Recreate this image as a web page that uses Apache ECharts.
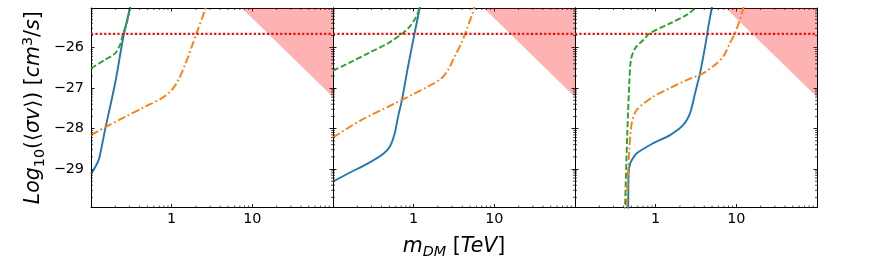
<!DOCTYPE html>
<html><head><meta charset="utf-8">
<script src="https://cdn.jsdelivr.net/npm/echarts@6/dist/echarts.min.js"></script>
<style>html,body{margin:0;padding:0;background:#fff}#c{width:872px;height:258px}</style>
</head><body><div id="c"></div>
<script>
// ---- data (m in TeV, value = log10 <sigma v> [cm^3/s]) ----
const xRange = [0.1, 100];
const yRange = [-29.95, -25.02];
const xTickLabels = ['1', '10'];
const yTickLabels = [-29, -28, -27, -26];
const xMinorTicks = [0.2,0.3,0.4,0.5,0.6,0.7,0.8,0.9,2,3,4,5,6,7,8,9,20,30,40,50,60,70,80,90];
const yMinorFactors = [2,3,4,5,6,7,8,9];
const relicLog = -25.66;
const unitarity = [[5, -24.69], [100, -27.22]];

const p1Blue = [[0.1,-29.12],[0.113,-28.95],[0.126,-28.74],[0.149,-28.04],[0.199,-26.88],[0.252,-25.73],[0.304,-25.02],[0.33,-24.66]];
const p1Green = [[0.1,-26.51],[0.149,-26.30],[0.199,-26.14],[0.229,-25.93],[0.251,-25.64],[0.277,-25.40],[0.304,-25.02],[0.32,-24.75]];
const p1Orange = [[0.1,-28.16],[0.149,-27.97],[0.264,-27.71],[0.467,-27.46],[0.752,-27.25],[1.0,-27.05],[1.21,-26.80],[1.46,-26.43],[1.77,-25.98],[2.04,-25.64],[2.59,-25.07],[2.8,-24.85]];

const p2Blue = [[0.1,-29.31],[0.1535,-29.11],[0.272,-28.86],[0.417,-28.63],[0.505,-28.45],[0.582,-28.12],[0.640,-27.71],[0.716,-27.29],[0.851,-26.47],[1.028,-25.64],[1.186,-25.02],[1.3,-24.6]];
const p2Green = [[0.1,-26.57],[0.1535,-26.39],[0.272,-26.14],[0.481,-25.89],[0.703,-25.67],[0.893,-25.48],[1.079,-25.23],[1.186,-25.02],[1.3,-24.75]];
const p2Orange = [[0.1,-28.22],[0.224,-27.79],[0.582,-27.38],[1.507,-26.96],[2.203,-26.76],[2.667,-26.55],[3.228,-26.22],[3.899,-25.89],[4.375,-25.64],[5.445,-25.11],[6.0,-24.8]];

const p3Blue = [[0.456,-30.3],[0.458,-29.6],[0.462,-29.1],[0.48,-28.88],[0.505,-28.78],[0.582,-28.61],[0.935,-28.36],[1.507,-28.16],[2.203,-27.91],[2.667,-27.62],[3.076,-27.13],[3.548,-26.63],[4.093,-25.98],[4.498,-25.48],[4.955,-25.02],[5.4,-24.6]];
const p3Green = [[0.414,-30.3],[0.417,-29.95],[0.445,-28.12],[0.471,-26.88],[0.494,-26.30],[0.555,-26.02],[0.703,-25.81],[0.851,-25.64],[1.507,-25.40],[2.421,-25.19],[3.076,-25.02],[3.4,-24.88]];
const p3Orange = [[0.433,-30.3],[0.436,-29.95],[0.471,-28.53],[0.505,-27.87],[0.582,-27.54],[0.935,-27.21],[1.507,-27.00],[2.421,-26.80],[3.899,-26.63],[5.70,-26.39],[6.90,-26.22],[8.34,-25.89],[9.62,-25.64],[11.09,-25.31],[12.22,-25.02],[13.0,-24.8]];

const panels = [
  {blue: p1Blue, orange: p1Orange, green: p1Green},
  {blue: p2Blue, orange: p2Orange, green: p2Green},
  {blue: p3Blue, orange: p3Orange, green: p3Green}
];

// ---- chart ----
const FONT = 'DejaVu Sans';
const chart = echarts.init(document.getElementById('c'), null, {renderer: 'canvas'});
const G_LEFT = 91, G_W = 242, G_TOP = 8, G_H = 199.5;

const yMinor = [];
for (let n = -30; n <= -26; n++) yMinorFactors.forEach(k => {
  const v = n + Math.log10(k);
  if (v > yRange[0] && v < yRange[1]) yMinor.push(v);
});

const grids = [], xAxes = [], yAxes = [], series = [];
const tickStyle = {show: true, inside: true, length: 3.5, lineStyle: {color: '#000', width: 0.9}};
const lineAx = {show: true, onZero: false, lineStyle: {color: '#000', width: 1}};

const FS = 20.5, FSS = 14.4;
const rich = {
  i: {fontFamily: FONT, fontStyle: 'italic', fontSize: FS, lineHeight: 26, color: '#000'},
  n: {fontFamily: FONT, fontSize: FS, lineHeight: 26, color: '#000'},
  sub: {fontFamily: FONT, fontSize: FSS, lineHeight: 14, verticalAlign: 'bottom', color: '#000'},
  isub: {fontFamily: FONT, fontStyle: 'italic', fontSize: FSS, lineHeight: 14, verticalAlign: 'bottom', color: '#000'},
  sup: {fontFamily: FONT, fontSize: FSS, lineHeight: 14, verticalAlign: 'top', color: '#000'}
};

panels.forEach((p, gi) => {
  grids.push({left: G_LEFT + G_W * gi, top: G_TOP, width: G_W, height: G_H, containLabel: false, outerBoundsMode: 'none'});
  const xb = {
    type: 'log', logBase: 10, min: xRange[0], max: xRange[1], gridIndex: gi, position: 'bottom',
    axisLine: lineAx, axisTick: tickStyle, splitLine: {show: false}, minorTick: {show: false},
    axisLabel: {
      show: true, margin: 5, fontFamily: FONT, fontSize: 14.4, color: '#000',
      formatter: v => { const s = String(Math.round(v * 1000) / 1000); return xTickLabels.includes(s) ? s : ''; }
    }
  };
  if (gi === 1) {
    xb.name = '{i|m}{isub|DM}{n| [}{i|TeV}{n|]}';
    xb.nameLocation = 'middle';
    xb.nameGap = 26;
    xb.nameTextStyle = {rich};
  }
  xAxes.push(xb);
  xAxes.push({
    type: 'log', logBase: 10, min: xRange[0], max: xRange[1], gridIndex: gi, position: 'top',
    axisLine: lineAx, axisTick: tickStyle, splitLine: {show: false}, axisLabel: {show: false}
  });
  const yl = {
    type: 'value', min: yRange[0], max: yRange[1], splitNumber: 5, gridIndex: gi, position: 'left',
    axisLine: lineAx, axisTick: tickStyle, splitLine: {show: false},
    axisLabel: {
      show: gi === 0, margin: 7, fontFamily: FONT, fontSize: 14.4, color: '#000',
      formatter: v => { const r = Math.round(v); return (Math.abs(v - r) < 1e-6 && yTickLabels.includes(r)) ? '\u2212' + Math.abs(r) : ''; }
    }
  };
  if (gi === 0) {
    yl.name = '{i|Log}{sub|10}{n|(\u27e8}{i|\u03c3v}{n|\u27e9) [}{i|cm}{sup|3}{n|/}{i|s}{n|]}';
    yl.nameLocation = 'middle';
    yl.nameRotate = 90;
    yl.nameGap = 44;
    yl.nameTextStyle = {rich};
  }
  yAxes.push(yl);
  yAxes.push({
    type: 'value', min: yRange[0], max: yRange[1], splitNumber: 5, gridIndex: gi, position: 'right',
    axisLine: lineAx, axisTick: tickStyle, splitLine: {show: false}, axisLabel: {show: false}
  });
  const xi = 2 * gi, yi = 2 * gi;
  series.push({
    type: 'line', xAxisIndex: xi, yAxisIndex: yi, data: unitarity, showSymbol: false, silent: true,
    lineStyle: {width: 0}, areaStyle: {origin: 'end', color: 'rgba(255,0,0,0.3)', opacity: 1}, z: 1
  });
  const mk = (data, color, type) => ({
    type: 'line', xAxisIndex: xi, yAxisIndex: yi, data, showSymbol: false, smooth: 0.3, silent: true,
    lineStyle: {color, width: 1.9, type, cap: 'butt'}, z: 3
  });
  series.push(mk(p.blue, '#1f77b4', 'solid'));
  series.push(mk(p.orange, '#ff7f0e', [8, 2.8, 1.8, 2.8]));
  series.push(mk(p.green, '#2ca02c', [6, 2.6]));
  series.push({
    type: 'line', xAxisIndex: xi, yAxisIndex: yi, data: [[xRange[0], relicLog], [xRange[1], relicLog]],
    showSymbol: false, silent: true, lineStyle: {color: '#ff0000', width: 2.1, type: [2.1, 2.3]}, z: 4
  });
  // log-style minor ticks, placed through the axes' own scales
  series.push({
    type: 'custom', xAxisIndex: xi, yAxisIndex: yi, silent: true, z: 6,
    data: xMinorTicks.map(m => [m, yRange[0]]),
    renderItem: (params, api) => {
      const b = api.coord([api.value(0), yRange[0]]);
      const t = api.coord([api.value(0), yRange[1]]);
      const st = {stroke: '#000', lineWidth: 0.7};
      return {type: 'group', children: [
        {type: 'line', shape: {x1: b[0], y1: b[1], x2: b[0], y2: b[1] - 2}, style: st},
        {type: 'line', shape: {x1: t[0], y1: t[1], x2: t[0], y2: t[1] + 2}, style: st}
      ]};
    }
  });
  series.push({
    type: 'custom', xAxisIndex: xi, yAxisIndex: yi, silent: true, z: 6,
    data: yMinor.map(v => [xRange[0], v]),
    renderItem: (params, api) => {
      const l = api.coord([xRange[0], api.value(1)]);
      const r = api.coord([xRange[1], api.value(1)]);
      const st = {stroke: '#000', lineWidth: 0.7};
      return {type: 'group', children: [
        {type: 'line', shape: {x1: l[0], y1: l[1], x2: l[0] + 2, y2: l[1]}, style: st},
        {type: 'line', shape: {x1: r[0], y1: r[1], x2: r[0] - 2, y2: r[1]}, style: st}
      ]};
    }
  });
});

chart.setOption({
  animation: false,
  backgroundColor: '#fff',
  grid: grids,
  xAxis: xAxes,
  yAxis: yAxes,
  series
});
</script>
</body></html>
